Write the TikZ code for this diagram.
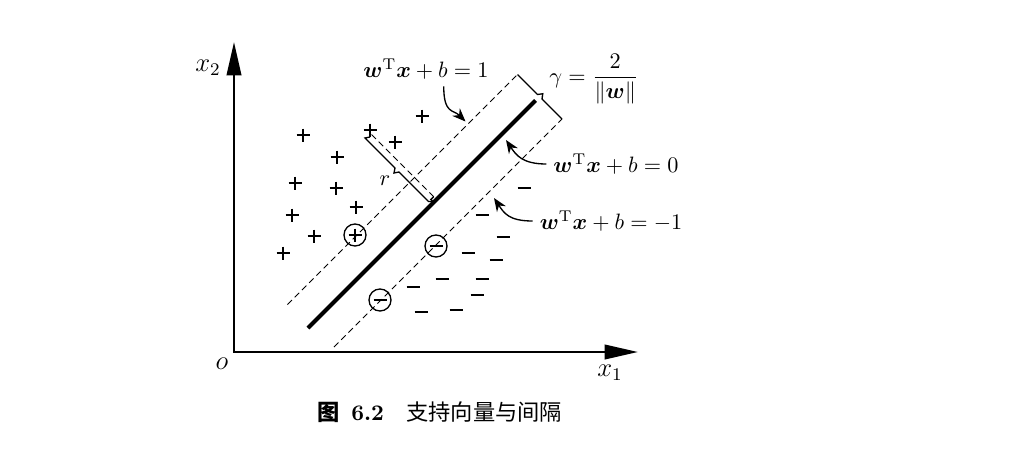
\documentclass[tikz,border=0pt]{standalone}
\usepackage{amsmath,amssymb}
\usepackage{fontspec}
\newfontfamily\cjk{Noto Sans CJK SC}
\usetikzlibrary{arrows.meta}

\begin{document}
\begin{tikzpicture}[x=0.0158cm,y=-0.0158cm,
	axis/.style={line width=1.1pt,{Triangle[length=15pt,width=6.5pt]}-{Triangle[length=15pt,width=6.5pt]}},
	axlbl/.style={font=\large},
	hyper/.style={line width=1.8pt},
	margin/.style={line width=0.45pt,dash pattern=on 2.8pt off 1.8pt},
	brack/.style={line width=0.6pt},
	lbl/.style={inner sep=3pt},
	pointer/.style={line width=0.6pt,-{Stealth[length=6pt,width=4.8pt]}},
	sv/.style={draw,circle,line width=0.6pt,minimum size=9.9pt,inner sep=0pt},
	pluspt/.pic={\draw[line width=1pt] (-6.5,0) -- (6.5,0) (0,-6.5) -- (0,6.5);},
	minuspt/.pic={\draw[line width=1pt] (-6.5,0) -- (6.5,0);}]
	\useasboundingbox (0,0) rectangle (1010,471);

	% axes
	\coordinate (o) at (234,352);
	\coordinate (ytip) at (234,42);
	\coordinate (xtip) at (638,352);
	\draw[axis] (ytip) -- (o) -- (xtip);
	\node[axlbl] (xtwo) at (208,68) {$x_2$};
	\node[axlbl] (xone) at (610,373) {$x_1$};
	\node[axlbl] (orig) at (222,364) {$o$};

	% separating hyperplane and margins
	\coordinate (up0) at (287.5,304.5);
	\coordinate (up1) at (517.5,74.5);
	\coordinate (hp0) at (308,328);
	\coordinate (hp1) at (535.5,100.5);
	\coordinate (lo0) at (334,347);
	\coordinate (lo1) at (562,119);
	\draw[margin] (up0) -- (up1);
	\draw[hyper] (hp0) -- (hp1);
	\draw[margin] (lo0) -- (lo1);

	% margin width
	\draw[brack] (up1) -- (537.5,94.5) -- (542.75,93.75) -- (542,99) -- (lo1);

	% distance r
	\coordinate (ptop) at (371.5,134.5);
	\coordinate (foot) at (436.5,199.5);
	\draw[margin] (ptop) -- (foot);
	\draw[brack] (370,137) -- (365,138) -- (395,168) -- (394,173) -- (399,172) -- (428.5,201.5) -- (433.5,201.5);
	\draw[brack] (433.7,202.3) -- (430.8,199.5) -- (433.7,196.7);
	\node (rlab) at (385,181) {$r$};

	% samples
	\foreach \px/\py in {303/135,370/130,395/142,422/116,337/157,295/183,336/188,292/215,356/207,314/236,283/253,355/235}
		\pic at (\px,\py) {pluspt};
	\foreach \mx/\my in {524/188,482/215,503/237,468/253,496/260,442/279,482/279,413/287,477/295,421/312,456/310,436/246,380/300}
		\pic at (\mx,\my) {minuspt};
	\node[sv] (svp) at (355,235) {};
	\node[sv] (svna) at (436,246) {};
	\node[sv] (svnb) at (380,300) {};

	% labels
	\node[lbl] (labp) at (426,69) {$\boldsymbol{w}^{\mathrm{T}}\boldsymbol{x}+b=1$};
	\node[lbl] (labz) at (616,164) {$\boldsymbol{w}^{\mathrm{T}}\boldsymbol{x}+b=0$};
	\node[lbl] (labm) at (611,221) {$\boldsymbol{w}^{\mathrm{T}}\boldsymbol{x}+b=-1$};
	\node[lbl] (gam) at (594,79) {$\gamma=\dfrac{2}{\|\boldsymbol{w}\|}$};

	\coordinate (ap) at (465.5,121.5);
	\coordinate (az) at (506,140);
	\coordinate (am) at (494,198);
	\draw[pointer] ([xshift=0.28cm]labp.south) .. controls +(0,28) and +(-12,-12) .. (ap);
	\draw[pointer] (labz.west) .. controls +(-24,0) and +(10,15) .. (az);
	\draw[pointer] (labm.west) .. controls +(-24,0) and +(10,15) .. (am);

	% caption
	\node (cap) at (440,412) {{\cjk\bfseries 图}\hspace{0.5em}\textbf{6.2}\quad{\cjk 支持向量与间隔}};
\end{tikzpicture}
\end{document}
